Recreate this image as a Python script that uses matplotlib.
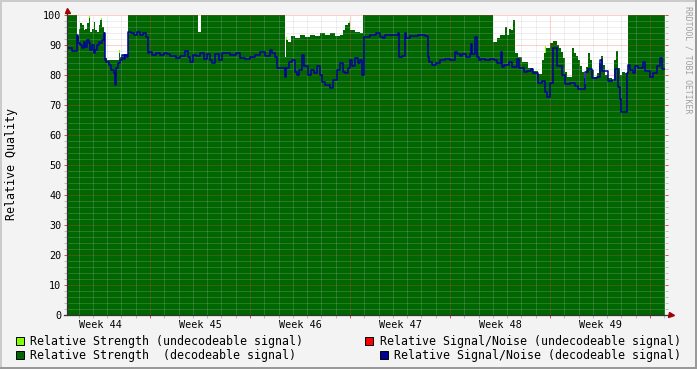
import matplotlib
matplotlib.use("Agg")
import matplotlib.pyplot as plt
from matplotlib.patches import Rectangle
from matplotlib.lines import Line2D
import numpy as np

# ---------------- data (time in days since start of Week 44) ----------------
snr_time = [1.19, 1.54, 1.89, 1.96, 2.10, 2.24, 2.38, 2.45, 2.59, 2.73, 2.80, 2.94, 3.08, 3.15,
            3.29, 3.43, 3.50, 3.64, 3.78, 3.85, 3.92, 4.13, 4.27, 4.48, 4.55, 4.62, 4.76, 4.90,
            5.04, 5.18, 5.25, 5.39, 5.46, 5.67, 5.88, 6.09, 6.30, 6.51, 6.72, 6.86, 6.93, 7.14,
            7.42, 7.70, 7.98, 8.19, 8.40, 8.82, 9.10, 9.45, 9.66, 9.80, 10.01, 10.22, 10.50,
            10.78, 10.99, 11.20, 11.34, 11.55, 11.83, 12.04, 12.25, 12.60, 13.02, 13.30, 13.65,
            14.00, 14.35, 14.70, 15.05, 15.40, 15.54, 15.75, 15.89, 16.45, 16.52, 16.73, 16.94,
            17.15, 17.29, 17.43, 17.64, 17.78, 18.06, 18.27, 18.48, 18.69, 18.90, 19.04, 19.25,
            19.60, 19.81, 20.09, 20.30, 20.51, 20.65, 20.86, 21.00, 21.14, 21.35, 21.56, 21.70,
            21.84, 21.98, 22.40, 22.82, 23.10, 23.31, 23.45, 24.36, 24.43, 24.64, 24.85, 24.92,
            25.20, 25.76, 26.25, 26.46, 26.53, 26.74, 27.02, 27.30, 27.65, 28.00, 28.35, 28.49,
            28.70, 28.84, 29.12, 29.40, 29.47, 29.54, 29.75, 29.89, 30.03, 30.17, 30.45, 30.80,
            31.08, 31.29, 31.57, 31.64, 31.78, 32.13, 32.34, 32.69, 32.83, 33.18, 33.39, 33.67,
            33.81, 34.16, 34.44, 34.65, 34.79, 35.00, 35.21, 35.49, 35.84, 36.05, 36.40, 36.75,
            36.96, 37.45, 37.66, 37.94, 38.29, 38.50, 38.64, 39.06, 39.34, 39.55, 39.76, 39.90,
            39.97, 40.39, 40.46, 40.60, 40.81, 40.95, 41.16, 41.51, 41.65, 42.00, 42.21, 42.49,
            42.70, 42.84, 43.05]
snr_value = [88.9, 88.1, 93.3, 90.6, 90.0, 88.9, 91.1, 89.4, 91.7, 90.6, 88.3, 90.0, 87.2, 88.3,
             90.0, 91.1, 90.6, 91.7, 93.9, 85.0, 84.4, 83.3, 81.7, 80.6, 76.7, 82.2, 84.0, 85.0,
             86.7, 85.5, 86.7, 86.0, 94.2, 93.9, 93.3, 94.4, 93.3, 93.9, 92.8, 87.2, 87.8, 86.7,
             87.2, 86.7, 87.2, 87.0, 86.5, 85.7, 86.5, 88.0, 86.0, 84.4, 86.7, 86.3, 87.2,
             85.5, 87.0, 85.0, 83.9, 87.0, 85.0, 87.2, 87.5, 86.7, 87.2, 85.8, 85.5,
             86.0, 86.7, 87.8, 86.3, 88.3, 87.5, 86.0, 82.2, 79.4, 82.2, 84.4, 85.0,
             81.0, 80.0, 81.7, 86.7, 83.0, 80.0, 81.7, 80.6, 83.0, 80.0, 77.8, 76.7,
             75.6, 78.3, 81.7, 83.9, 81.0, 80.6, 82.2, 85.0, 83.0, 85.6, 83.9, 85.0,
             80.0, 92.8, 93.3, 93.9, 92.8, 92.2, 93.3, 93.9, 86.1, 86.5, 93.9, 92.5,
             93.0, 93.3, 93.0, 86.0, 84.4, 83.3, 84.0, 85.0, 85.5, 85.0, 87.8, 87.0,
             86.5, 87.0, 86.0, 87.0, 90.5, 87.0, 92.8, 86.0, 85.0, 85.5, 85.0, 85.5,
             85.0, 83.9, 87.8, 82.8, 83.3, 84.4, 82.8, 85.5, 82.2, 81.1, 81.4, 82.0,
             80.7, 77.5, 78.0, 74.5, 72.8, 77.2, 88.9, 83.0, 80.0, 77.0, 77.5, 76.5,
             75.5, 81.0, 82.0, 79.0, 79.5, 85.0, 81.5, 78.0, 78.5, 82.0, 76.0, 72.0,
             67.8, 80.6, 83.3, 81.7, 80.6, 83.0, 82.5, 84.4, 81.5, 79.4, 80.6, 83.0,
             85.6, 82.0, 82.0]

strength_time = [1.19, 1.89, 2.03, 2.10, 2.24, 2.38, 2.45, 2.59, 2.73, 2.80, 2.94, 3.08, 3.15,
                 3.29, 3.43, 3.50, 3.64, 3.78, 3.85, 3.99, 4.83, 4.90, 5.18, 5.46, 10.36, 10.57,
                 16.45, 16.52, 16.66, 16.87, 17.15, 17.50, 17.85, 18.20, 18.55, 18.90, 19.25,
                 19.60, 19.95, 20.30, 20.51, 20.65, 20.86, 21.00, 21.35, 21.70, 21.91, 31.01,
                 31.29, 31.50, 31.85, 31.99, 32.13, 32.27, 32.41, 32.55, 32.76, 33.04, 33.46,
                 33.81, 34.16, 34.44, 34.58, 34.72, 35.00, 35.21, 35.49, 35.63, 35.77, 35.91,
                 36.05, 36.19, 36.54, 36.68, 36.82, 36.96, 37.10, 37.24, 37.38, 37.45, 37.52,
                 37.66, 37.80, 37.94, 38.08, 38.29, 38.43, 38.57, 38.71, 38.85, 39.06, 39.34,
                 39.48, 39.62, 39.76, 39.90, 40.04, 40.25, 40.46, 43.05]
strength_value = [100, 93.0, 95.5, 97.2, 96.7, 95.0, 95.5, 97.2, 98.9, 94.4, 95.5, 97.8, 95.0,
                  94.4, 96.7, 98.2, 96.0, 94.4, 85.6, 85.0, 87.2, 86.1, 87.0, 100, 94.5, 100,
                  86.0, 91.7, 91.0, 93.0, 92.5, 93.5, 92.8, 93.5, 93.0, 94.0, 93.2,
                  94.0, 93.0, 93.5, 95.0, 96.7, 97.5, 95.0, 94.5, 94.0, 100, 91.1,
                  92.2, 93.3, 96.1, 93.3, 95.5, 95.0, 98.3, 87.2, 86.0, 84.5, 82.5,
                  81.5, 80.5, 85.0, 87.5, 89.0, 90.6, 91.5, 90.0, 89.0, 87.8, 85.6,
                  81.0, 79.5, 89.0, 87.5, 86.5, 85.0, 83.0, 81.0, 79.0, 77.0, 82.8,
                  87.2, 85.0, 81.7, 79.4, 80.6, 83.9, 86.5, 83.3, 80.0, 79.0, 78.0,
                  85.0, 88.0, 82.2, 80.0, 81.1, 80.6, 100, 100]

undec_time = [2.73, 3.57, 4.83, 16.52, 20.93, 34.65]
undec_value = [99.6, 99.0, 88.2, 92.6, 98.0, 89.8]

week_labels = ["Week 44", "Week 45", "Week 46", "Week 47", "Week 48", "Week 49"]
week_centers = [3.5, 10.5, 17.5, 24.5, 31.5, 38.5]
week_bounds = [7, 14, 21, 28, 35, 42]

legend_items = [
    ("Relative Strength (undecodeable signal)", "#7FFF00"),
    ("Relative Signal/Noise (undecodeable signal)", "#FF0000"),
    ("Relative Strength  (decodeable signal)", "#006600"),
    ("Relative Signal/Noise (decodeable signal)", "#000099"),
]

# ---------------- figure ----------------
W, H = 697, 369
MONO = "DejaVu Sans Mono"
plt.rcParams["font.family"] = MONO

fig = plt.figure(figsize=(W / 100, H / 100), dpi=100)
fig.patch.set_facecolor("#F3F3F3")

def fx(px):
    return px / W

def fy(py):
    return 1 - py / H

ax = fig.add_axes([fx(67), fy(315), (665 - 67) / W, 300 / H])
ax.set_facecolor("white")
ax.set_xlim(1.19, 43.05)
ax.set_ylim(0, 100)

# undecodeable tips (under the decodeable area)
ax.bar(undec_time, undec_value, width=0.07, align="edge", color="#7FFF00", lw=0, zorder=0.9)
ax.fill_between(strength_time, 0, strength_value, step="post", color="#006600", lw=0, zorder=1)
ax.plot(snr_time, snr_value, drawstyle="steps-post", color="#000099", lw=1.1, zorder=3)

# grid
ax.set_axisbelow(False)
ax.set_xticks(week_bounds)
ax.set_xticks(np.arange(2, 44, 1), minor=True)
ax.set_yticks(np.arange(0, 101, 10))
ax.set_yticks(np.arange(0, 101, 2), minor=True)
ax.set_xticklabels([])
ax.set_yticklabels([str(v) for v in range(0, 101, 10)])
ax.grid(which="minor", color="#BABABA", alpha=0.45, ls=(0, (1, 1)), lw=0.72, snap=True)
ax.grid(which="major", color="#FF4040", alpha=0.5, ls=(0, (1, 1)), lw=0.72, snap=True)
ax.tick_params(which="major", direction="out", length=2.2, width=0.72,
               color=(0.85, 0.3, 0.3), labelsize=7.3, pad=1.8, right=True)
ax.tick_params(which="minor", direction="out", length=2.2, width=0.72,
               color=(0.75, 0.75, 0.75), right=True)

for s in ax.spines.values():
    s.set_visible(False)

for lbl, c in zip(week_labels, week_centers):
    ax.annotate(lbl, xy=(c, 0), xycoords=("data", "axes fraction"), xytext=(0, -3.5),
                textcoords="offset points", ha="center", va="top", fontsize=7.3)

# axes lines and arrows
fig.add_artist(Line2D([fx(67), fx(67)], [fy(315), fy(12)], color="#333333", lw=0.9))
fig.add_artist(Line2D([fx(64), fx(669)], [fy(315), fy(315)], color="#333333", lw=0.9))
fig.add_artist(Line2D([fx(67)], [fy(10)], marker="^", markersize=3.6, color="#A00000", lw=0))
fig.add_artist(Line2D([fx(671)], [fy(315)], marker=">", markersize=3.6, color="#A00000", lw=0))

# y label
fig.text(fx(12), fy(164), "Relative Quality", rotation=90, ha="center", va="center", fontsize=8.4)

# watermark
fig.text(fx(688), fy(60), "RRDTOOL / TOBI OETIKER", rotation=270, ha="center", va="center",
         fontsize=5.9, color="#A0A0A0")

# legend
boxes = [(15.5, 337, 30, 341), (365, 337, 380, 341), (15.5, 351, 30, 355), (379.5, 351, 394, 355)]
for (text, col), (bx, by, tx, ty) in zip(legend_items, boxes):
    fig.add_artist(Rectangle((fx(bx), fy(by + 8)), 8 / W, 8 / H, facecolor=col,
                             edgecolor="black", lw=0.7))
    fig.text(fx(tx), fy(ty), text, ha="left", va="center", fontsize=8.4)

# frame
fig.add_artist(Rectangle((0, 1 - 2 / H), 1, 2 / H, color="#CBCBCB", lw=0))
fig.add_artist(Rectangle((0, 0), 2 / W, 1, color="#CBCBCB", lw=0))
fig.add_artist(Rectangle((0, 0), 1, 2 / H, color="#999999", lw=0))
fig.add_artist(Rectangle((1 - 2 / W, 0), 2 / W, 1, color="#999999", lw=0))

fig.savefig("out.png", dpi=100, facecolor=fig.get_facecolor())
